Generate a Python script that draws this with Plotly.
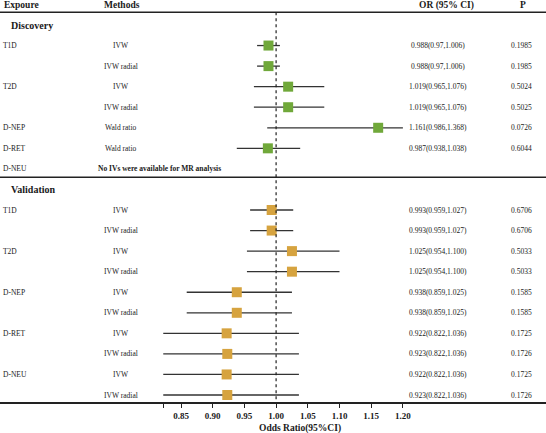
import plotly.graph_objects as go

# ---------------- data ----------------
disc_exposure = ["T1D", "", "T2D", "", "D-NEP", "D-RET", "D-NEU"]
disc_method = ["IVW", "IVW radial", "IVW", "IVW radial", "Wald ratio", "Wald ratio", None]
disc_or = [0.988, 0.988, 1.019, 1.019, 1.161, 0.987, None]
disc_lo = [0.97, 0.97, 0.965, 0.965, 0.986, 0.938, None]
disc_hi = [1.006, 1.006, 1.076, 1.076, 1.368, 1.038, None]
disc_ci_text = ["0.988(0.97,1.006)", "0.988(0.97,1.006)", "1.019(0.965,1.076)",
                "1.019(0.965,1.076)", "1.161(0.986,1.368)", "0.987(0.938,1.038)", ""]
disc_p = ["0.1985", "0.1985", "0.5024", "0.5025", "0.0726", "0.6044", ""]

val_exposure = ["T1D", "", "T2D", "", "D-NEP", "", "D-RET", "", "D-NEU", ""]
val_method = ["IVW", "IVW radial"] * 5
val_or = [0.993, 0.993, 1.025, 1.025, 0.938, 0.938, 0.922, 0.923, 0.922, 0.923]
val_lo = [0.959, 0.959, 0.954, 0.954, 0.859, 0.859, 0.822, 0.822, 0.822, 0.822]
val_hi = [1.027, 1.027, 1.100, 1.100, 1.025, 1.025, 1.036, 1.036, 1.036, 1.036]
val_ci_text = ["0.993(0.959,1.027)", "0.993(0.959,1.027)", "1.025(0.954,1.100)",
               "1.025(0.954,1.100)", "0.938(0.859,1.025)", "0.938(0.859,1.025)",
               "0.922(0.822,1.036)", "0.923(0.822,1.036)", "0.922(0.822,1.036)",
               "0.923(0.822,1.036)"]
val_p = ["0.6706", "0.6706", "0.5033", "0.5033", "0.1585", "0.1585",
         "0.1725", "0.1726", "0.1725", "0.1726"]

no_iv_text = "No IVs were available for MR analysis"
headers = ["Expoure", "Methods", "OR (95% CI)", "P"]
tick_vals = [0.822, 0.85, 0.90, 0.95, 1.00, 1.05, 1.10, 1.15, 1.20]
tick_text = ["", "0.85", "0.90", "0.95", "1.00", "1.05", "1.10", "1.15", "1.20"]
x_label = "Odds Ratio(95%CI)"
axis_max = 1.20

# ---------------- layout constants ----------------
W, H = 546, 433
FONT = "Liberation Serif"
GREEN = "#70A83A"
ORANGE = "#D6A33F"
disc_rows = list(range(1, 8))
val_rows = list(range(9, 19))

def px(x):
    return x / W

fig = go.Figure()

def add_group(rows, ors, los, his, color):
    xs, ys = [], []
    for r, o, lo, hi in zip(rows, ors, los, his):
        if o is None:
            continue
        xs += [lo, min(hi, axis_max), None]
        ys += [r, r, None]
    fig.add_trace(go.Scatter(x=xs, y=ys, mode="lines",
                             line=dict(color="#333333", width=1.3),
                             hoverinfo="skip", showlegend=False))
    pr = [r for r, o in zip(rows, ors) if o is not None]
    po = [o for o in ors if o is not None]
    fig.add_trace(go.Scatter(x=po, y=pr, mode="markers",
                             marker=dict(symbol="square", size=10, color=color,
                                         line=dict(width=0)),
                             showlegend=False))

add_group(disc_rows, disc_or, disc_lo, disc_hi, GREEN)
add_group(val_rows, val_or, val_lo, val_hi, ORANGE)

ann = []
def txt(x, y, s, anchor="center", size=7.5, bold=False, yref="y"):
    ann.append(dict(x=x, y=y, xref="paper", yref=yref, text=("<b>%s</b>" % s) if bold else s,
                    showarrow=False, xanchor=anchor, yanchor="middle",
                    font=dict(family=FONT, size=size, color="#1a1a1a")))

# headers
hy = -0.97
txt(px(2), hy, headers[0], "left", 9.5, True)
txt(px(121.7), hy, headers[1], "center", 9.5, True)
txt(px(446), hy, headers[2], "center", 9.5, True)
txt(px(523), hy, headers[3], "center", 9.5, True)

txt(px(9), 0, "Discovery", "left", 10, True)
txt(px(9), 8, "Validation", "left", 10, True)

for r, e, m, c, p in zip(disc_rows, disc_exposure, disc_method, disc_ci_text, disc_p):
    if e:
        txt(px(1), r, e, "left")
    if m is None:
        txt(px(159), r, no_iv_text, "center", 7.5, True)
    else:
        txt(px(121), r, m, "center")
    if c:
        txt(px(438), r, c, "center")
        txt(px(521), r, p, "center")

for r, e, m, c, p in zip(val_rows, val_exposure, val_method, val_ci_text, val_p):
    if e:
        txt(px(1), r, e, "left")
    txt(px(121), r, m, "center")
    txt(px(438), r, c, "center")
    txt(px(521), r, p, "center")

# x label
txt(px(300), -0.065, x_label, "center", 9.5, True, yref="paper")

shapes = [
    dict(type="line", xref="paper", yref="y", x0=0, x1=1, y0=-0.62, y1=-0.62,
         line=dict(color="#222222", width=1.5)),
    dict(type="line", xref="paper", yref="y", x0=0, x1=1, y0=7.41, y1=7.41,
         line=dict(color="#222222", width=1.5)),
    dict(type="line", xref="x", yref="y", x0=1.0, x1=1.0, y0=-0.62, y1=18.34,
         line=dict(color="#222222", width=1.2, dash="dot")),
]

fig.update_layout(
    width=W, height=H,
    margin=dict(l=0, r=0, t=0, b=31, pad=0),
    paper_bgcolor="white", plot_bgcolor="white",
    showlegend=False,
    annotations=ann, shapes=shapes,
    xaxis=dict(range=[0.8 - 181 / 634 + 0.05, 0.85 + 365 / 634],
               tickvals=tick_vals, ticktext=["<b>%s</b>" % t if t else "" for t in tick_text],
               ticks="outside", ticklen=4, tickwidth=1.2, tickcolor="#222222",
               showline=True, linecolor="#222222", linewidth=1.5,
               showgrid=False, zeroline=False,
               tickfont=dict(family=FONT, size=9, color="#1a1a1a")),
    yaxis=dict(range=[18.34, -1.216], showgrid=False, zeroline=False,
               showticklabels=False, showline=False, ticks=""),
)

fig.write_html("out.html")
